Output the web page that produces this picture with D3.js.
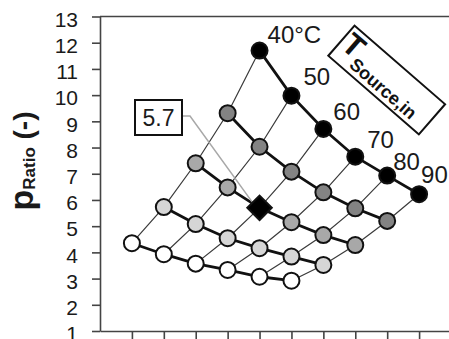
<!DOCTYPE html>
<html>
<head>
<meta charset="utf-8">
<script src="https://cdn.jsdelivr.net/npm/d3@7"></script>
<style>
  body { margin: 0; background: #fff; }
  svg { display: block; }
  text { font-family: Arial, "Liberation Sans", sans-serif; }
</style>
</head>
<body>
<svg id="chart" width="449" height="339"></svg>
<script>
// Source inlet temperatures (one thin carpet line each)
const sourceTemps = [40, 50, 60, 70, 80, 90];
const tempLabels = ["40°C", "50", "60", "70", "80", "90"];

// Pressure ratio per carpet row (thick lines), ordered by source temperature
const rowWhite  = [4.35, 3.93, 3.57, 3.33, 3.07, 2.92];
const rowLight  = [5.73, 5.08, 4.54, 4.16, 3.84, 3.52];
const rowMedium = [7.40, 6.48, 5.70, 5.15, 4.66, 4.28];
const rowDark   = [9.31, 8.03, 7.08, 6.29, 5.68, 5.20];
const rowBlack  = [11.70, 9.98, 8.71, 7.65, 6.93, 6.22];

// Highlighted operating point: medium row at 60 °C
const highlightRow = 2;
const highlightTemp = 60;
const highlightLabel = "5.7";

const yTickValues = d3.range(1, 14);
const xTickValues = d3.range(1, 11);

const rows = [rowWhite, rowLight, rowMedium, rowDark, rowBlack];
const rowFills = ["#ffffff", "#d6d6d6", "#a8a8a8", "#838383", "#000000"];

const svg = d3.select("#chart");

const x = d3.scaleLinear().domain([0, 11]).range([100, 451]);
const y = d3.scaleLinear().domain([1, 13]).range([331, 16.5]);

// carpet offset: each row shifts one step to the right
const px = (r, t) => x(r + t + 1);
const py = (r, t) => y(rows[r][t]);

// frame top
svg.append("line")
  .attr("x1", x(0)).attr("x2", 449)
  .attr("y1", y(13)).attr("y2", y(13))
  .attr("stroke", "#444").attr("stroke-width", 1.6);

// y axis
const yAxis = svg.append("g")
  .attr("transform", `translate(${x(0)},0)`)
  .call(d3.axisLeft(y).tickValues(yTickValues).tickSize(8).tickSizeOuter(0).tickPadding(14));
yAxis.selectAll("path, line").attr("stroke", "#444").attr("stroke-width", 1.6);
yAxis.selectAll("text")
  .attr("font-size", 21).attr("fill", "#1a1a1a")
  .attr("dy", "0.46em")
  .style("font-family", "Arial, 'Liberation Sans', sans-serif");

// x axis (unlabelled ticks)
const xAxis = svg.append("g")
  .attr("transform", `translate(0,${y(1)})`)
  .call(d3.axisBottom(x).tickValues(xTickValues).tickSize(8).tickSizeOuter(0).tickFormat(""));
xAxis.selectAll("path, line").attr("stroke", "#444").attr("stroke-width", 1.6);

// y axis title
const yTitle = svg.append("text")
  .attr("transform", "translate(33,161) rotate(-90)")
  .attr("text-anchor", "middle")
  .attr("font-weight", "bold")
  .attr("fill", "#1a1a1a");
yTitle.append("tspan").attr("font-size", 34).text("p");
yTitle.append("tspan").attr("font-size", 17).attr("dy", 2).text("Ratio");
yTitle.append("tspan").attr("font-size", 28).attr("dy", -2).text(" (-)");

const line = d3.line().x(d => d[0]).y(d => d[1]);

// thin lines: constant source temperature
sourceTemps.forEach((T, t) => {
  const pts = rows.map((_, r) => [px(r, t), py(r, t)]);
  svg.append("path").attr("d", line(pts))
    .attr("fill", "none").attr("stroke", "#3a3a3a").attr("stroke-width", 1.2);
});

// thick lines: carpet rows
rows.forEach((vals, r) => {
  const pts = vals.map((_, t) => [px(r, t), py(r, t)]);
  svg.append("path").attr("d", line(pts))
    .attr("fill", "none").attr("stroke", "#111").attr("stroke-width", 2.8);
});

// callout box and leader line for the highlighted point
const hT = sourceTemps.indexOf(highlightTemp);
const hx = px(highlightRow, hT), hy = py(highlightRow, hT);
const box = { x: 135, y: 100, w: 47, h: 35 };
svg.append("path")
  .attr("d", line([[box.x + box.w, box.y + 16], [box.x + box.w + 8, box.y + 16], [hx - 6, hy - 4]]))
  .attr("fill", "none").attr("stroke", "#a8a8a8").attr("stroke-width", 1.5);
svg.append("rect")
  .attr("x", box.x).attr("y", box.y).attr("width", box.w).attr("height", box.h)
  .attr("fill", "#fff").attr("stroke", "#111").attr("stroke-width", 2);
svg.append("text")
  .attr("x", box.x + box.w / 2).attr("y", box.y + box.h / 2 + 8)
  .attr("text-anchor", "middle").attr("font-size", 23).attr("fill", "#1a1a1a")
  .text(highlightLabel);

// markers
rows.forEach((vals, r) => {
  vals.forEach((v, t) => {
    if (r === highlightRow && t === hT) return;
    svg.append("circle")
      .attr("cx", px(r, t)).attr("cy", py(r, t)).attr("r", 8)
      .attr("fill", rowFills[r]).attr("stroke", "#111").attr("stroke-width", 2);
  });
});
svg.append("path")
  .attr("d", d3.symbol(d3.symbolSquare, 300)())
  .attr("transform", `translate(${hx},${hy}) rotate(45)`)
  .attr("fill", "#000").attr("stroke", "#111").attr("stroke-width", 2);

// temperature labels along the top row
const labelNudge = [[8, -8], [12, -11], [10, -9], [12, -9], [6, -6], [2, -11]];
tempLabels.forEach((lab, t) => {
  svg.append("text")
    .attr("x", px(4, t) + labelNudge[t][0])
    .attr("y", py(4, t) + labelNudge[t][1])
    .attr("font-size", 24).attr("fill", "#1a1a1a")
    .text(lab);
});

// rotated series title
const tg = svg.append("g").attr("transform", "translate(386.7,80) rotate(41)");
tg.append("rect")
  .attr("x", -60).attr("y", -20).attr("width", 120).attr("height", 40)
  .attr("fill", "#fff").attr("stroke", "#111").attr("stroke-width", 2);
const tt = tg.append("text").attr("x", -57).attr("y", 6)
  .attr("font-weight", "bold").attr("fill", "#111");
tt.append("tspan").attr("font-size", 31).text("T");
tt.append("tspan").attr("font-size", 18).attr("dy", 9).text("Source,in");
</script>
</body>
</html>
